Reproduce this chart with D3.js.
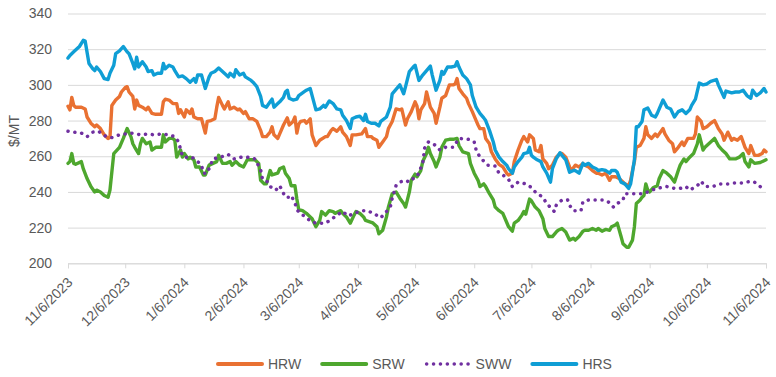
<!DOCTYPE html>
<html>
<head>
<meta charset="utf-8">
<script src="https://cdn.jsdelivr.net/npm/d3@7"></script>
<style>
  body { margin: 0; background: #fff; }
  svg text { font-family: "Liberation Sans", Arial, sans-serif; fill: #595959; }
</style>
</head>
<body>
<div id="chart"></div>
<script>
// wheat prices, $/MT
const seriesNames = ["HRW", "SRW", "SWW", "HRS"];

const hrw = [["11/6/2023",288],["11/7/2023",286],["11/8/2023",293],["11/9/2023",288.5],["11/10/2023",287.5],["11/13/2023",287.5],["11/15/2023",286.5],["11/16/2023",282],["11/18/2023",278.5],["11/20/2023",276.5],["11/21/2023",277.5],["11/23/2023",275.5],["11/25/2023",272],["11/27/2023",270],["11/28/2023",270.5],["11/29/2023",288.5],["12/1/2023",291.5],["12/3/2023",293.5],["12/4/2023",296],["12/6/2023",298.5],["12/7/2023",299],["12/8/2023",296],["12/10/2023",293.5],["12/11/2023",286.5],["12/12/2023",291.5],["12/13/2023",288.5],["12/15/2023",287.5],["12/17/2023",286],["12/18/2023",287.5],["12/20/2023",284],["12/22/2023",283.5],["12/25/2023",283.5],["12/26/2023",290.5],["12/27/2023",292],["12/29/2023",291.5],["12/31/2023",289.5],["1/2/2024",289.5],["1/3/2024",284],["1/4/2024",286],["1/6/2024",282],["1/7/2024",286],["1/9/2024",284],["1/10/2024",286.5],["1/11/2024",282],["1/13/2024",281],["1/15/2024",281],["1/17/2024",273],["1/18/2024",279.5],["1/20/2024",280],["1/22/2024",281],["1/23/2024",287.5],["1/24/2024",293],["1/26/2024",288.5],["1/27/2024",286.5],["1/29/2024",290.5],["1/30/2024",286.5],["2/1/2024",287.5],["2/3/2024",286],["2/4/2024",286.5],["2/6/2024",284],["2/7/2024",285],["2/9/2024",281],["2/11/2024",281],["2/13/2024",279.5],["2/15/2024",274.5],["2/16/2024",271],["2/18/2024",271],["2/20/2024",273.5],["2/21/2024",276.5],["2/22/2024",272],["2/24/2024",270],["2/25/2024",272.5],["2/27/2024",277.5],["2/29/2024",281.5],["3/1/2024",277.5],["3/3/2024",279.5],["3/4/2024",282],["3/5/2024",273],["3/6/2024",278],["3/7/2024",279.5],["3/9/2024",280],["3/10/2024",278.5],["3/12/2024",281],["3/13/2024",272],["3/15/2024",266],["3/17/2024",269],["3/20/2024",271],["3/21/2024",271],["3/23/2024",274.5],["3/24/2024",275.5],["3/26/2024",274],["3/28/2024",276.5],["3/29/2024",273.5],["3/31/2024",271],["4/2/2024",266],["4/3/2024",272],["4/5/2024",272],["4/8/2024",272.5],["4/10/2024",275.5],["4/11/2024",271],["4/13/2024",271],["4/14/2024",270],["4/16/2024",269],["4/17/2024",265],["4/19/2024",268],["4/21/2024",271],["4/22/2024",275.5],["4/24/2024",279.5],["4/26/2024",286.5],["4/28/2024",286],["4/29/2024",286.5],["5/1/2024",277.5],["5/2/2024",281],["5/4/2024",285],["5/6/2024",290.5],["5/7/2024",288],["5/8/2024",281],["5/9/2024",286],["5/11/2024",289.5],["5/12/2024",296],["5/14/2024",287.5],["5/16/2024",284],["5/17/2024",278.5],["5/19/2024",287.5],["5/20/2024",292.5],["5/22/2024",294],["5/24/2024",300],["5/26/2024",300],["5/27/2024",300.5],["5/28/2024",303.5],["5/29/2024",298],["5/31/2024",295],["6/2/2024",292.5],["6/3/2024",289.5],["6/5/2024",285],["6/7/2024",280],["6/8/2024",277.5],["6/9/2024",275.5],["6/11/2024",275.5],["6/12/2024",270],["6/14/2024",267],["6/15/2024",262.5],["6/17/2024",258.5],["6/19/2024",255.5],["6/21/2024",254],["6/23/2024",250.5],["6/24/2024",249.5],["6/26/2024",250.5],["6/27/2024",257],["6/29/2024",263.5],["7/1/2024",269],["7/2/2024",271],["7/4/2024",268],["7/5/2024",272],["7/7/2024",270],["7/8/2024",263.5],["7/10/2024",262.5],["7/11/2024",266],["7/12/2024",258.5],["7/14/2024",256],["7/15/2024",253],["7/17/2024",255],["7/19/2024",259.5],["7/21/2024",261.5],["7/22/2024",261.5],["7/24/2024",259.5],["7/26/2024",254],["7/27/2024",252],["7/29/2024",255],["7/31/2024",254],["8/2/2024",256],["8/3/2024",255],["8/5/2024",254],["8/7/2024",252],["8/9/2024",250.5],["8/10/2024",250.5],["8/12/2024",249.5],["8/14/2024",250.5],["8/16/2024",246.5],["8/17/2024",248.5],["8/19/2024",248.5],["8/21/2024",247.5],["8/23/2024",245.5],["8/24/2024",244.5],["8/26/2024",243.5],["8/27/2024",246.5],["8/28/2024",252],["8/29/2024",257],["8/30/2024",265],["9/1/2024",266],["9/2/2024",268],["9/3/2024",270],["9/4/2024",276.5],["9/5/2024",272],["9/7/2024",270],["9/9/2024",272.5],["9/10/2024",271],["9/13/2024",275.5],["9/14/2024",272.5],["9/16/2024",269],["9/18/2024",267],["9/19/2024",262.5],["9/21/2024",265],["9/23/2024",268],["9/24/2024",266],["9/26/2024",270],["9/27/2024",270],["9/29/2024",270],["9/30/2024",272.5],["10/1/2024",282],["10/3/2024",279.5],["10/4/2024",275.5],["10/6/2024",276.5],["10/8/2024",278.5],["10/10/2024",280],["10/12/2024",275.5],["10/14/2024",272.5],["10/15/2024",269],["10/17/2024",273.5],["10/19/2024",269],["10/20/2024",270],["10/22/2024",269],["10/24/2024",271],["10/26/2024",265],["10/28/2024",261.5],["10/29/2024",266],["10/31/2024",260.5],["11/2/2024",260.5],["11/4/2024",261.5],["11/5/2024",263.5],["11/6/2024",262.5]];

const srw = [["11/6/2023",256],["11/7/2023",257],["11/8/2023",261.5],["11/9/2023",256],["11/10/2023",255.5],["11/13/2023",257],["11/14/2023",253],["11/16/2023",247.5],["11/18/2023",243],["11/20/2023",240],["11/21/2023",241],["11/23/2023",240],["11/25/2023",238],["11/27/2023",237],["11/28/2023",241],["11/30/2023",261.5],["12/3/2023",265],["12/5/2023",270],["12/7/2023",275.5],["12/9/2023",271],["12/10/2023",267],["12/11/2023",265],["12/13/2023",261.5],["12/14/2023",267],["12/15/2023",270],["12/17/2023",267],["12/19/2023",268],["12/20/2023",263.5],["12/22/2023",265],["12/25/2023",265],["12/26/2023",272],["12/27/2023",268],["12/29/2023",270],["12/31/2023",270],["1/1/2024",269],["1/2/2024",259.5],["1/4/2024",263.5],["1/5/2024",259.5],["1/6/2024",261.5],["1/8/2024",258.5],["1/9/2024",259.5],["1/11/2024",258],["1/12/2024",254],["1/14/2024",254],["1/16/2024",249.5],["1/17/2024",249.5],["1/19/2024",255],["1/21/2024",256],["1/23/2024",257],["1/24/2024",260.5],["1/26/2024",256],["1/28/2024",256],["1/30/2024",257],["1/31/2024",255],["2/2/2024",257],["2/4/2024",255],["2/6/2024",254],["2/8/2024",258],["2/10/2024",258],["2/12/2024",258],["2/14/2024",256],["2/15/2024",246.5],["2/17/2024",244.5],["2/18/2024",244.5],["2/20/2024",252],["2/21/2024",249.5],["2/24/2024",250.5],["2/25/2024",253],["2/27/2024",254],["2/28/2024",250.5],["3/1/2024",247.5],["3/2/2024",243.5],["3/4/2024",243.5],["3/5/2024",236],["3/6/2024",230],["3/8/2024",229.5],["3/10/2024",228],["3/13/2024",225],["3/15/2024",220.5],["3/17/2024",224],["3/18/2024",229],["3/20/2024",227],["3/22/2024",229.5],["3/24/2024",229],["3/25/2024",228],["3/28/2024",229.5],["3/29/2024",228],["3/31/2024",226],["4/2/2024",222.5],["4/4/2024",227],["4/5/2024",229],["4/7/2024",228],["4/9/2024",226],["4/10/2024",224],["4/13/2024",223],["4/14/2024",222.5],["4/16/2024",220.5],["4/17/2024",216.5],["4/19/2024",218.5],["4/21/2024",226],["4/22/2024",231.5],["4/24/2024",239],["4/26/2024",240],["4/28/2024",236.5],["4/30/2024",233.5],["5/1/2024",231.5],["5/3/2024",240],["5/4/2024",246.5],["5/6/2024",250],["5/7/2024",248.5],["5/9/2024",252],["5/10/2024",257],["5/12/2024",261.5],["5/13/2024",265],["5/14/2024",261.5],["5/16/2024",257],["5/17/2024",254],["5/19/2024",259.5],["5/20/2024",265],["5/22/2024",269],["5/24/2024",269.5],["5/26/2024",269.5],["5/28/2024",270],["5/29/2024",266],["5/31/2024",262.5],["6/3/2024",261.5],["6/4/2024",256],["6/6/2024",250.5],["6/8/2024",246.5],["6/9/2024",243],["6/11/2024",244.5],["6/12/2024",243],["6/14/2024",239],["6/16/2024",235.5],["6/17/2024",231.5],["6/19/2024",229.5],["6/21/2024",228],["6/23/2024",223],["6/24/2024",220.5],["6/26/2024",218],["6/27/2024",222.5],["6/29/2024",224],["7/1/2024",227],["7/2/2024",229],["7/3/2024",227.5],["7/5/2024",236],["7/6/2024",235],["7/8/2024",231.5],["7/10/2024",229.5],["7/12/2024",225],["7/13/2024",219.5],["7/15/2024",215],["7/17/2024",215],["7/19/2024",217.5],["7/20/2024",218.5],["7/22/2024",219.5],["7/24/2024",217.5],["7/26/2024",213],["7/28/2024",214],["7/29/2024",213],["7/31/2024",215],["8/2/2024",218],["8/3/2024",218.5],["8/5/2024",218.5],["8/7/2024",219.5],["8/9/2024",218.5],["8/10/2024",219.5],["8/12/2024",218],["8/14/2024",219],["8/16/2024",218.5],["8/17/2024",220.5],["8/19/2024",221.5],["8/20/2024",222.5],["8/22/2024",215],["8/23/2024",211],["8/25/2024",209],["8/26/2024",209],["8/28/2024",213],["8/29/2024",220.5],["8/30/2024",233.5],["9/1/2024",235.5],["9/2/2024",237],["9/3/2024",238],["9/4/2024",244.5],["9/5/2024",241],["9/6/2024",240],["9/8/2024",242.5],["9/10/2024",243.5],["9/11/2024",247.5],["9/13/2024",252],["9/15/2024",250.5],["9/17/2024",248.5],["9/19/2024",245.5],["9/21/2024",252],["9/22/2024",255],["9/24/2024",258.5],["9/25/2024",257],["9/27/2024",259.5],["9/29/2024",261.5],["10/1/2024",267],["10/2/2024",272],["10/4/2024",263.5],["10/5/2024",265],["10/7/2024",267],["10/10/2024",270],["10/12/2024",266],["10/14/2024",263.5],["10/16/2024",261.5],["10/18/2024",258.5],["10/19/2024",258.5],["10/21/2024",258.5],["10/23/2024",259.5],["10/25/2024",261.5],["10/26/2024",257],["10/28/2024",254],["10/29/2024",258],["10/31/2024",256],["11/3/2024",256.5],["11/5/2024",257.5],["11/6/2024",258]];

const sww = [["11/6/2023",274],["11/9/2023",273.5],["11/13/2023",273],["11/16/2023",271],["11/19/2023",273.5],["11/22/2023",274],["11/26/2023",271],["11/29/2023",270.5],["12/3/2023",272],["12/6/2023",272.5],["12/10/2023",273],["12/14/2023",272],["12/18/2023",272.5],["12/21/2023",272],["12/25/2023",272.5],["12/29/2023",272],["1/1/2024",271],["1/3/2024",268],["1/4/2024",264],["1/5/2024",260],["1/6/2024",259.5],["1/10/2024",259.5],["1/13/2024",257],["1/15/2024",255],["1/16/2024",250.5],["1/18/2024",250.5],["1/21/2024",258.5],["1/25/2024",259.5],["1/29/2024",261],["2/1/2024",258.5],["2/5/2024",259.5],["2/8/2024",259.5],["2/12/2024",258.5],["2/15/2024",252.5],["2/16/2024",247],["2/19/2024",245.5],["2/20/2024",243],["2/23/2024",241],["2/25/2024",243.5],["2/28/2024",237],["3/1/2024",237],["3/2/2024",238],["3/4/2024",234],["3/5/2024",230],["3/7/2024",228],["3/10/2024",225.5],["3/13/2024",223],["3/16/2024",222.5],["3/20/2024",222.5],["3/23/2024",224.5],["3/26/2024",227],["3/29/2024",229],["4/1/2024",226.5],["4/4/2024",228],["4/8/2024",229.5],["4/11/2024",229.5],["4/15/2024",227.5],["4/18/2024",225.5],["4/21/2024",229],["4/23/2024",231.5],["4/24/2024",236.5],["4/26/2024",243.5],["4/28/2024",245.5],["5/1/2024",246.5],["5/3/2024",245.5],["5/5/2024",247.5],["5/7/2024",248.5],["5/10/2024",256],["5/11/2024",264.5],["5/13/2024",268],["5/17/2024",266],["5/19/2024",263.5],["5/22/2024",265],["5/26/2024",265],["5/29/2024",270],["6/3/2024",269.5],["6/6/2024",268],["6/7/2024",263.5],["6/9/2024",259.5],["6/13/2024",255],["6/17/2024",254.5],["6/19/2024",250.5],["6/21/2024",249.5],["6/24/2024",247],["6/26/2024",243],["6/29/2024",245.5],["7/3/2024",244.5],["7/6/2024",242.5],["7/8/2024",240],["7/12/2024",237],["7/14/2024",233.5],["7/18/2024",229],["7/19/2024",232.5],["7/22/2024",235.5],["7/25/2024",235.5],["7/26/2024",232.5],["7/28/2024",229.5],["8/1/2024",229.5],["8/2/2024",234.5],["8/5/2024",235.5],["8/9/2024",235.5],["8/13/2024",235.5],["8/16/2024",234],["8/18/2024",231.5],["8/20/2024",233.5],["8/23/2024",235.5],["8/24/2024",239],["8/28/2024",239],["8/31/2024",239],["9/3/2024",239],["9/7/2024",241],["9/10/2024",242],["9/15/2024",243],["9/19/2024",242],["9/22/2024",242],["9/25/2024",243],["9/27/2024",241],["10/1/2024",243.5],["10/3/2024",246],["10/5/2024",243],["10/9/2024",243],["10/13/2024",244.5],["10/17/2024",244.5],["10/20/2024",245],["10/25/2024",245],["10/29/2024",246],["10/31/2024",245.5],["11/3/2024",243]];

const hrs = [["11/6/2023",315],["11/7/2023",316.5],["11/9/2023",318.5],["11/12/2023",321.5],["11/14/2023",325],["11/15/2023",324.5],["11/17/2023",312],["11/19/2023",309],["11/20/2023",308],["11/21/2023",310],["11/23/2023",307.5],["11/25/2023",303.5],["11/27/2023",303],["11/28/2023",306.5],["11/30/2023",311],["12/1/2023",317.5],["12/3/2023",319],["12/5/2023",321.5],["12/7/2023",318.5],["12/8/2023",317.5],["12/10/2023",312],["12/11/2023",309],["12/12/2023",315.5],["12/13/2023",310],["12/15/2023",313],["12/17/2023",310],["12/18/2023",307.5],["12/20/2023",308],["12/21/2023",305.5],["12/23/2023",306.5],["12/25/2023",306.5],["12/26/2023",312],["12/27/2023",309],["12/29/2023",311],["12/31/2023",310],["1/1/2024",308],["1/3/2024",304.5],["1/5/2024",305],["1/7/2024",303.5],["1/9/2024",301.5],["1/11/2024",303.5],["1/12/2024",301.5],["1/13/2024",305.5],["1/15/2024",305.5],["1/17/2024",298],["1/19/2024",304.5],["1/20/2024",306.5],["1/22/2024",307.5],["1/24/2024",309.5],["1/26/2024",307.5],["1/27/2024",306.5],["1/29/2024",304.5],["1/30/2024",306.5],["2/1/2024",304.5],["2/2/2024",308.5],["2/4/2024",305.5],["2/6/2024",306.5],["2/7/2024",304.5],["2/10/2024",302.5],["2/11/2024",301.5],["2/13/2024",299],["2/15/2024",293.5],["2/16/2024",288.5],["2/18/2024",287.5],["2/20/2024",290.5],["2/21/2024",292],["2/22/2024",287.5],["2/24/2024",289.5],["2/25/2024",290.5],["2/27/2024",293],["2/28/2024",296],["2/29/2024",297],["3/1/2024",292.5],["3/3/2024",291.5],["3/5/2024",292],["3/6/2024",294],["3/8/2024",295.5],["3/10/2024",297],["3/12/2024",298],["3/13/2024",294],["3/15/2024",286],["3/17/2024",286.5],["3/19/2024",288.5],["3/20/2024",287.5],["3/22/2024",291],["3/24/2024",289.5],["3/26/2024",286.5],["3/28/2024",286],["3/29/2024",283],["3/31/2024",280],["4/2/2024",275.5],["4/3/2024",281],["4/5/2024",282],["4/7/2024",282.5],["4/9/2024",280],["4/10/2024",283.5],["4/11/2024",279.5],["4/13/2024",278.5],["4/15/2024",278.5],["4/17/2024",277],["4/18/2024",279.5],["4/21/2024",282],["4/23/2024",287.5],["4/24/2024",295],["4/26/2024",297.5],["4/28/2024",300],["4/30/2024",295],["5/1/2024",299],["5/3/2024",307.5],["5/5/2024",310],["5/6/2024",311],["5/8/2024",302.5],["5/10/2024",305.5],["5/12/2024",308],["5/14/2024",310.5],["5/15/2024",305.5],["5/17/2024",297],["5/19/2024",302.5],["5/20/2024",307.5],["5/21/2024",306],["5/23/2024",310],["5/25/2024",310],["5/27/2024",310.5],["5/28/2024",313],["5/29/2024",310],["5/31/2024",305.5],["6/2/2024",303.5],["6/4/2024",300],["6/5/2024",294],["6/7/2024",287.5],["6/9/2024",284],["6/11/2024",281.5],["6/12/2024",280],["6/14/2024",274.5],["6/16/2024",268],["6/17/2024",263.5],["6/19/2024",259.5],["6/21/2024",257],["6/23/2024",255],["6/24/2024",253],["6/26/2024",250.5],["6/27/2024",254],["6/29/2024",257],["7/1/2024",259.5],["7/2/2024",261.5],["7/4/2024",262],["7/5/2024",265],["7/6/2024",260.5],["7/7/2024",259.5],["7/9/2024",258],["7/11/2024",257],["7/12/2024",254],["7/14/2024",250.5],["7/16/2024",245.5],["7/17/2024",253],["7/19/2024",258.5],["7/21/2024",262],["7/22/2024",260.5],["7/24/2024",258],["7/26/2024",251],["7/28/2024",252],["7/29/2024",252],["7/31/2024",250.5],["8/2/2024",256],["8/3/2024",255],["8/5/2024",256],["8/7/2024",254],["8/9/2024",253],["8/10/2024",252],["8/12/2024",252.5],["8/14/2024",252],["8/16/2024",250.5],["8/17/2024",252],["8/19/2024",252],["8/20/2024",251],["8/22/2024",245.5],["8/24/2024",244.5],["8/26/2024",242],["8/27/2024",244.5],["8/29/2024",258],["8/30/2024",276.5],["8/31/2024",276.5],["9/2/2024",279.5],["9/3/2024",286],["9/5/2024",287],["9/7/2024",283],["9/9/2024",282],["9/10/2024",284],["9/13/2024",291.5],["9/15/2024",287.5],["9/17/2024",286.5],["9/19/2024",282],["9/21/2024",285],["9/23/2024",286],["9/25/2024",284],["9/27/2024",286],["9/28/2024",288.5],["9/30/2024",292],["10/2/2024",301],["10/4/2024",300],["10/6/2024",300.5],["10/8/2024",302],["10/11/2024",303],["10/12/2024",300],["10/15/2024",293],["10/16/2024",296.5],["10/19/2024",295.5],["10/21/2024",296],["10/23/2024",296],["10/25/2024",297],["10/27/2024",294],["10/29/2024",292.5],["10/30/2024",297],["11/1/2024",294],["11/3/2024",295.5],["11/5/2024",298],["11/6/2024",296]];

const yTicks = [200, 220, 240, 260, 280, 300, 320, 340];
const xTickLabels = ["11/6/2023","12/6/2023","1/6/2024","2/6/2024","3/6/2024","4/6/2024","5/6/2024","6/6/2024","7/6/2024","8/6/2024","9/6/2024","10/6/2024","11/6/2024"];

const colors = { HRW: "#E97132", SRW: "#4EA72E", SWW: "#7030A0", HRS: "#0F9ED5" };
const seriesData = { HRW: hrw, SRW: srw, SWW: sww, HRS: hrs };

const width = 776, height = 377;
const plot = { left: 68, right: 766, top: 13.5, bottom: 263.3 };

const parseDate = d3.timeParse("%m/%d/%Y");

const svg = d3.select("#chart").append("svg")
    .attr("width", width)
    .attr("height", height)
    .style("display", "block");

const x = d3.scaleTime()
    .domain([parseDate(xTickLabels[0]), parseDate(xTickLabels[xTickLabels.length - 1])])
    .range([plot.left, plot.right]);

const y = d3.scaleLinear()
    .domain([200, 340])
    .range([plot.bottom, plot.top]);

// horizontal gridlines + y labels
const yAxis = svg.append("g")
    .attr("transform", `translate(${plot.left},0)`)
    .call(d3.axisLeft(y).tickValues(yTicks).tickSize(-(plot.right - plot.left)).tickPadding(16));
yAxis.select(".domain").remove();
yAxis.selectAll(".tick line").attr("stroke", "#d9d9d9").attr("stroke-width", 1);
yAxis.selectAll(".tick text").style("font-size", "14px");

// bottom axis with month ticks
const xAxis = svg.append("g")
    .attr("transform", `translate(0,${plot.bottom})`)
    .call(d3.axisBottom(x)
        .tickValues(xTickLabels.map(parseDate))
        .tickFormat((d, i) => xTickLabels[i])
        .tickSize(5));
xAxis.select(".domain").attr("stroke", "#d9d9d9");
xAxis.selectAll(".tick line").attr("stroke", "#d9d9d9");
xAxis.selectAll(".tick text")
    .style("font-size", "14px")
    .attr("text-anchor", "end")
    .attr("dy", null)
    .attr("y", 0)
    .attr("transform", "translate(5,20) rotate(-45)");

// y axis title
svg.append("text")
    .attr("transform", `translate(19,131) rotate(-90)`)
    .attr("text-anchor", "middle")
    .style("font-size", "14px")
    .text("$/MT");

const line = d3.line()
    .x(d => x(parseDate(d[0])))
    .y(d => y(d[1]));

// series, drawn in legend order so HRS ends on top
seriesNames.forEach(name => {
    const path = svg.append("path")
        .datum(seriesData[name])
        .attr("fill", "none")
        .attr("stroke", colors[name])
        .attr("stroke-linejoin", "round")
        .attr("stroke-linecap", "round")
        .attr("d", line);
    if (name === "SWW") {
        path.attr("stroke-width", 3.5).attr("stroke-dasharray", "0.1 6.8");
    } else {
        path.attr("stroke-width", 3.4);
    }
});

// legend
const legend = svg.append("g").attr("transform", "translate(217,364)");
let lx = 0;
seriesNames.forEach(name => {
    const item = legend.append("g").attr("transform", `translate(${lx},0)`);
    const l = item.append("line")
        .attr("x1", 1).attr("x2", 45)
        .attr("y1", 0).attr("y2", 0)
        .attr("stroke", colors[name])
        .attr("stroke-linecap", "round");
    if (name === "SWW") {
        l.attr("stroke-width", 3.5).attr("stroke-dasharray", "0.1 6.8").attr("x1", 2);
    } else {
        l.attr("stroke-width", 4);
    }
    const t = item.append("text")
        .attr("x", 51)
        .attr("dy", "0.35em")
        .style("font-size", "14px")
        .text(name);
    lx += 51 + t.node().getComputedTextLength() + 20;
});
</script>
</body>
</html>
